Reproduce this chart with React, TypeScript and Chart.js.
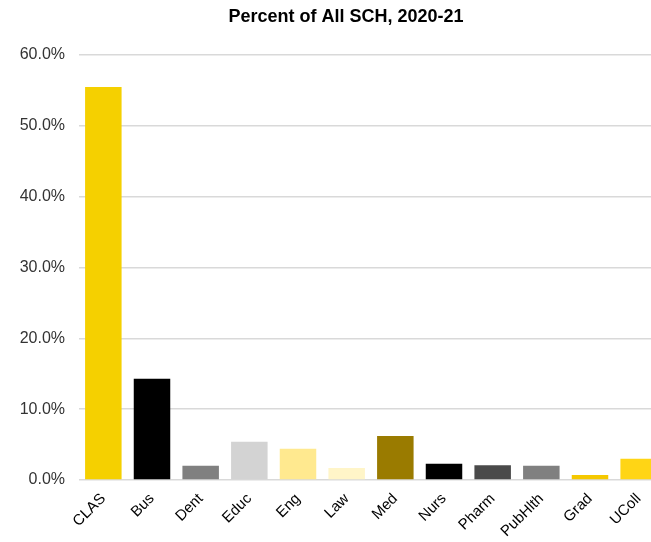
import React, { useEffect, useRef } from "react";
import { Chart, registerables } from "chart.js";

Chart.register(...registerables);

const categories = ["CLAS", "Bus", "Dent", "Educ", "Eng", "Law", "Med", "Nurs", "Pharm", "PubHlth", "Grad", "UColl"];
const percentValues = [55.5, 14.3, 2.0, 5.4, 4.4, 1.7, 6.2, 2.3, 2.1, 2.0, 0.7, 3.0];
const barColors = ["#F5D000", "#000000", "#808080", "#D3D3D3", "#FFE98F", "#FFF5C8", "#9A7B00", "#000000", "#4A4A4A", "#808080", "#F5C800", "#FFD515"];
const yTicks = [0, 10, 20, 30, 40, 50, 60];
const chartTitle = "Percent of All SCH, 2020-21";

export default function App() {
  const ref = useRef<HTMLCanvasElement | null>(null);

  useEffect(() => {
    if (!ref.current) return;
    const chart = new Chart(ref.current, {
      type: "bar",
      data: {
        labels: categories,
        datasets: [
          {
            data: percentValues,
            backgroundColor: barColors,
            borderWidth: 0,
            categoryPercentage: 0.75,
            barPercentage: 1,
          },
        ],
      },
      options: {
        animation: false,
        responsive: false,
        maintainAspectRatio: false,
        layout: { padding: 0 },
        plugins: {
          legend: { display: false },
          tooltip: { enabled: false },
          title: {
            display: true,
            text: chartTitle,
            color: "#000000",
            font: { family: "'Liberation Sans', Arial, sans-serif", size: 18, weight: "bold", lineHeight: 1.2 },
            padding: { top: 6, bottom: 27.4 },
          },
        },
        scales: {
          x: {
            grid: { display: false, drawTicks: false },
            border: { display: false },
            ticks: {
              color: "#000000",
              font: { family: "'Liberation Sans', Arial, sans-serif", size: 15 },
              maxRotation: 45,
              minRotation: 45,
              padding: 10,
            },
            afterFit: (scale: any) => {
              scale.height = 62;
            },
          },
          y: {
            min: 0,
            max: 60,
            afterBuildTicks: (scale: any) => {
              scale.ticks = yTicks.map((v) => ({ value: v }));
            },
            grid: { color: "#D9D9D9", lineWidth: 1.5, drawTicks: false },
            border: { display: false },
            ticks: {
              color: "#333333",
              font: { family: "'Liberation Sans', Arial, sans-serif", size: 16 },
              padding: 14,
              callback: (v: any) => Number(v).toFixed(1) + "%",
            },
            afterFit: (scale: any) => {
              scale.width = 79;
            },
          },
          yRight: {
            position: "right",
            display: true,
            min: 0,
            max: 60,
            grid: { display: false, drawTicks: false },
            border: { display: false },
            ticks: { display: false },
            afterFit: (scale: any) => {
              scale.width = 29;
            },
          },
        },
      },
    });
    return () => chart.destroy();
  }, []);

  return (
    <div style={{ position: "fixed", left: 0, top: 0, width: 651, height: 542, overflow: "hidden", background: "#ffffff" }}>
      <canvas ref={ref} width={692} height={542} style={{ display: "block", width: 692, height: 542 }} />
    </div>
  );
}
